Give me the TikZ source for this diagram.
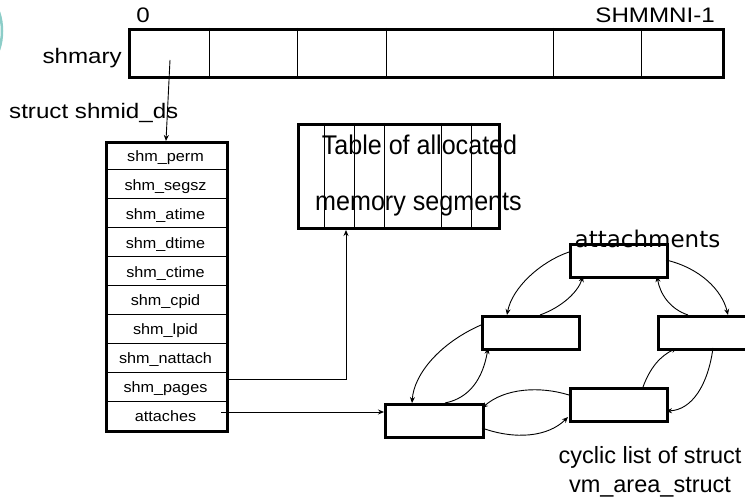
\documentclass[tikz,border=0pt]{standalone}
\usepackage{fontspec}
\usetikzlibrary{arrows.meta,calc}
\newfontfamily\gulbig[FakeStretch=1.15]{Liberation Sans}
\newfontfamily\gulrow[FakeStretch=1.08]{Liberation Sans}
\newfontfamily\arifont[FakeStretch=0.93]{Liberation Sans}
\newfontfamily\cycfont{Liberation Sans}
\newfontfamily\dejfont{DejaVu Sans}
\definecolor{tealarc}{RGB}{140,205,200}
\begin{document}
\begin{tikzpicture}[x=1pt,y=-1pt,
  thickbox/.style={draw, line width=3pt, inner sep=0pt, anchor=north west},
  divider/.style={line width=1pt},
  conn/.style={line width=0.9pt, -{Stealth[length=6pt,width=5pt]}},
  listbox/.style={draw, line width=3pt, minimum width=97pt, minimum height=33pt, inner sep=0pt, anchor=north west},
  rowlbl/.style={font=\gulrow\fontsize{15}{17}\selectfont, anchor=base, inner sep=0pt},
  biglbl/.style={font=\gulbig\fontsize{21}{23}\selectfont, inner sep=0pt},
  tablelbl/.style={font=\arifont\fontsize{27}{30}\selectfont, inner sep=0pt, anchor=base},
  cyclbl/.style={font=\cycfont\fontsize{23.5}{26}\selectfont, inner sep=0pt, anchor=base}
]
\useasboundingbox (0,0) rectangle (745,497);

% teal arc at the left edge
\draw[tealarc, line width=2.5pt] (-1,12) .. controls (3,24) and (3,38) .. (-1,50);

% shmary array
\foreach \x in {209,297,386,553,641} \draw[divider] (\x,28) -- (\x,76);
\node[thickbox, minimum width=594pt, minimum height=48pt] (shmary) at (128,28) {};
\node[biglbl, anchor=base] (zero) at (143,23) {0};
\node[biglbl, anchor=base east] (maxidx) at (715,23) {SHMMNI-1};
\node[biglbl, anchor=base east] (shmarylbl) at (122,64) {shmary};
\node[biglbl, anchor=base west] (structlbl) at (9,119) {struct shmid\_ds};

% struct shmid_ds
\foreach \k in {1,...,9} \draw[divider] (105,141+28.9*\k) -- (226,141+28.9*\k);
\node[thickbox, minimum width=121pt, minimum height=289pt] (shmid) at (105,141) {};
\foreach \lbl [count=\k] in {shm\_perm,shm\_segsz,shm\_atime,shm\_dtime,shm\_ctime,shm\_cpid,shm\_lpid,shm\_nattach,shm\_pages,attaches}
  \node[rowlbl] (r\k) at (165.5,141+28.9*\k-14.45+6) {\lbl};

% table of allocated memory segments
\foreach \x in {324,354,384,441,471} \draw[divider] (\x,123) -- (\x,227);
\node[thickbox, minimum width=201pt, minimum height=104pt] (table) at (297,123) {};
\node[tablelbl] (tbl1) at (419.5,155) {Table of allocated};
\node[tablelbl] (tbl2) at (418.5,211) {memory segments};

% list of vm_area_struct
\node[listbox] (A) at (569,243) {};
\node[listbox] (B) at (481,315) {};
\node[listbox] (C) at (657,315) {};
\node[listbox, minimum width=98pt] (D) at (384,403) {};
\node[listbox] (E) at (569,387) {};
\node[font=\dejfont\fontsize{23}{26}\selectfont, inner sep=0pt, anchor=base] (attl) at (647.5,248) {attachments};
\node[cyclbl] (cyc1) at (650,463) {cyclic list of struct};
\node[cyclbl] (cyc2) at (650,492) {vm\_area\_struct};

% connectors
\coordinate (cell0) at (170,60);
\draw[conn] (cell0) -- ($(shmid.north west)+(61,0)$);
\coordinate (pgs) at ($(shmid.north east)+(0,238)$);
\draw[conn] (pgs) -| ($(table.south west)+(49,0)$);
\coordinate (att) at ($(shmid.north east)+(-8,271)$);
\draw[conn] (att) -- (att -| D.west);

\draw[conn] ($(A.north west)+(0,9)$) .. controls (540,262) and (512,288) .. ($(B.north west)+(26,0)$);
\draw[conn] ($(B.north west)+(59,0)$) .. controls (562,307) and (578,292) .. ($(A.north west)+(14,33)$);
\draw[conn] ($(A.north west)+(97,17)$) .. controls (700,268) and (722,290) .. ($(C.north west)+(71,0)$);
\draw[conn] ($(C.north west)+(31,0)$) .. controls (670,309) and (660,294) .. ($(A.north west)+(88,33)$);
\draw[conn] ($(B.north west)+(0,10)$) .. controls (440,343) and (414,374) .. ($(D.north west)+(28,0)$);
\draw[conn] ($(D.north west)+(61,0)$) .. controls (470,398) and (483,378) .. ($(B.north west)+(7,33)$);
\draw[conn] ($(E.north west)+(0,8)$) .. controls (540,386) and (505,388) .. ($(D.north west)+(98,5)$);
\draw[conn] ($(D.north west)+(98,25)$) .. controls (515,440) and (548,437) .. ($(E.north west)+(-1,30)$);
\draw[conn] ($(E.north west)+(74,0)$) .. controls (650,368) and (660,356) .. ($(C.north west)+(20,33)$);
\draw[conn] ($(C.north west)+(56,33)$) .. controls (708,385) and (692,410) .. ($(E.north west)+(97,24)$);
\end{tikzpicture}
\end{document}
